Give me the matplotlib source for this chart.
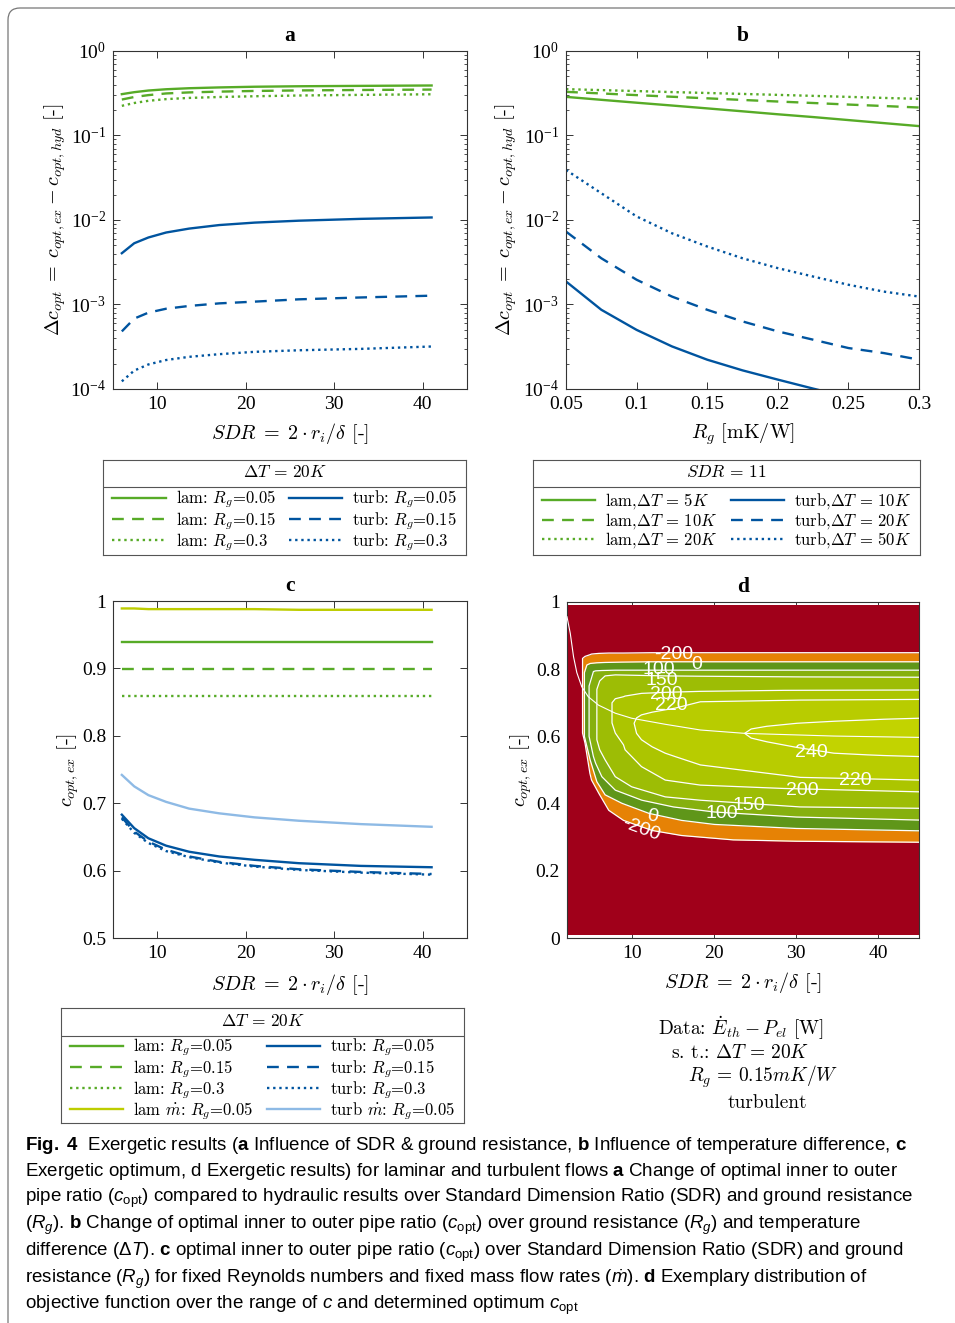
import matplotlib.pyplot as plt
import matplotlib.font_manager as fm
from matplotlib.patches import FancyBboxPatch
from matplotlib.font_manager import FontProperties
from matplotlib.ticker import FuncFormatter

# fonts: serif ticks (MATLAB look), computer modern for labels, narrow sans for the caption
names = {f.name for f in fm.fontManager.ttflist}
cap_font = "Liberation Sans Narrow" if "Liberation Sans Narrow" in names else "Liberation Sans"
plt.rcParams["font.family"] = "Liberation Serif"
plt.rcParams["mathtext.fontset"] = "cm"
plt.rcParams["mathtext.rm"] = cap_font
plt.rcParams["mathtext.it"] = cap_font + ":italic"
plt.rcParams["mathtext.bf"] = cap_font + ":bold"

green = "#57AB27"
blue = "#00549F"
lblue = "#8EBAE5"
mgreen = "#BDCD00"
dash = (0, (5, 3.5))
dot = (0, (1, 1.6))
lw = 1.7

# ---- panel a: delta c_opt over SDR (dT = 20K)
sdr = [6, 7.4, 9, 11, 13.6, 17, 21, 26, 33, 41]
a_lam_005 = [0.308, 0.325, 0.340, 0.352, 0.362, 0.370, 0.377, 0.382, 0.386, 0.390]
a_lam_015 = [0.266, 0.285, 0.300, 0.314, 0.323, 0.330, 0.336, 0.341, 0.345, 0.349]
a_lam_03 = [0.224, 0.242, 0.257, 0.269, 0.278, 0.285, 0.291, 0.297, 0.302, 0.307]
a_turb_005 = [0.00404, 0.0053, 0.0062, 0.0071, 0.0079, 0.0087, 0.0093, 0.0098, 0.0103, 0.0107]
a_turb_015 = [0.00048, 0.00068, 0.00080, 0.00089, 0.00096, 0.00103, 0.00108, 0.00115, 0.00121, 0.00127]
a_turb_03 = [0.000123, 0.000165, 0.000195, 0.000220, 0.000240, 0.000258, 0.000275, 0.000287, 0.000298, 0.000318]

# ---- panel b: delta c_opt over R_g (SDR = 11)
rg = [0.05, 0.075, 0.1, 0.125, 0.15, 0.175, 0.2, 0.225, 0.25, 0.275, 0.3]
b_lam_5 = [0.286, 0.264, 0.244, 0.226, 0.209, 0.193, 0.178, 0.165, 0.152, 0.140, 0.129]
b_lam_10 = [0.328, 0.314, 0.300, 0.287, 0.275, 0.263, 0.252, 0.242, 0.232, 0.223, 0.214]
b_lam_20 = [0.353, 0.344, 0.335, 0.326, 0.318, 0.310, 0.302, 0.294, 0.286, 0.278, 0.271]
b_turb_10 = [0.00187, 0.000865, 0.0005, 0.000319, 0.000222, 0.000166, 0.000129, 0.000101, 0.00008, 0.000064, 0.000052]
b_turb_20 = [0.00728, 0.00352, 0.00196, 0.00124, 0.000865, 0.00063, 0.00048, 0.000383, 0.000305, 0.000266, 0.000222]
b_turb_50 = [0.039, 0.0207, 0.011, 0.00696, 0.00485, 0.00352, 0.00269, 0.00214, 0.00171, 0.00142, 0.00124]

# ---- panel c: c_opt,ex over SDR
c_lam_005 = [0.939, 0.939, 0.939, 0.939, 0.939, 0.939, 0.939, 0.939, 0.939, 0.939]
c_lam_015 = [0.899, 0.899, 0.899, 0.899, 0.899, 0.899, 0.899, 0.899, 0.899, 0.899]
c_lam_03 = [0.859, 0.859, 0.859, 0.859, 0.859, 0.859, 0.859, 0.859, 0.859, 0.859]
c_lam_m = [0.989, 0.989, 0.988, 0.988, 0.988, 0.988, 0.988, 0.987, 0.987, 0.987]
c_turb_005 = [0.683, 0.663, 0.648, 0.637, 0.628, 0.621, 0.616, 0.611, 0.607, 0.605]
c_turb_015 = [0.679, 0.658, 0.643, 0.631, 0.621, 0.613, 0.607, 0.602, 0.598, 0.595]
c_turb_03 = [0.677, 0.656, 0.641, 0.629, 0.620, 0.612, 0.606, 0.601, 0.597, 0.594]
c_turb_m = [0.742, 0.725, 0.712, 0.702, 0.692, 0.685, 0.679, 0.674, 0.669, 0.665]

# ---- panel d: objective function E_th - P_el [W], contour bands (SDR, c lower, c upper)
d_box_sdr = [2, 45]
d_box_c = [0.01, 0.99]
d_levels = [-200, 0, 100, 150, 200, 220, 240]
sdr_m200 = [3.9, 4.2, 4.8, 5.0, 5.9, 7.1, 8.9, 12.4, 16, 22.3, 30, 45]
lo_m200 = [0.61, 0.58, 0.49, 0.47, 0.43, 0.38, 0.35, 0.32, 0.305, 0.292, 0.288, 0.285]
hi_m200 = [0.832, 0.838, 0.843, 0.845, 0.847, 0.848, 0.848, 0.849, 0.849, 0.849, 0.849, 0.849]
sdr_0 = [4.13, 4.43, 4.83, 5.65, 6.66, 8.7, 12.0, 16, 20, 30, 45]
lo_0 = [0.60, 0.57, 0.53, 0.465, 0.426, 0.401, 0.371, 0.35, 0.338, 0.326, 0.319]
hi_0 = [0.79, 0.8125, 0.817, 0.819, 0.82, 0.821, 0.822, 0.822, 0.822, 0.822, 0.822]
sdr_100 = [4.7, 5.23, 5.5, 6.26, 7.9, 11.15, 15, 20, 30, 45]
lo_100 = [0.60, 0.54, 0.52, 0.48, 0.44, 0.41, 0.39, 0.375, 0.36, 0.351]
hi_100 = [0.75, 0.793, 0.795, 0.796, 0.797, 0.797, 0.797, 0.797, 0.797, 0.797]
sdr_150 = [5.65, 6.0, 6.66, 7.9, 9.9, 14, 18.3, 30.5, 45]
lo_150 = [0.59, 0.56, 0.53, 0.48, 0.45, 0.42, 0.41, 0.39, 0.386]
hi_150 = [0.74, 0.765, 0.78, 0.783, 0.782, 0.78, 0.779, 0.777, 0.776]
sdr_200 = [7.5, 7.9, 8.9, 9.1, 11.1, 14, 18.3, 28.5, 45]
lo_200 = [0.64, 0.61, 0.575, 0.56, 0.51, 0.47, 0.455, 0.445, 0.435]
hi_200 = [0.70, 0.712, 0.718, 0.72, 0.728, 0.731, 0.734, 0.737, 0.738]
sdr_220 = [10.2, 10.5, 11.1, 12.4, 14, 15.2, 18.3, 30.5, 45]
lo_220 = [0.639, 0.609, 0.59, 0.569, 0.55, 0.54, 0.515, 0.478, 0.470]
hi_220 = [0.639, 0.655, 0.664, 0.672, 0.679, 0.684, 0.703, 0.708, 0.710]
sdr_240 = [23.7, 24.5, 26.4, 30.1, 34.6, 38.7, 40.7, 45]
lo_240 = [0.609, 0.595, 0.584, 0.567, 0.55, 0.545, 0.543, 0.540]
hi_240 = [0.609, 0.622, 0.630, 0.639, 0.645, 0.649, 0.651, 0.654]
copt_sdr = [2, 2.4, 2.8, 3.2, 3.8, 4.6, 5.85, 7.9, 9.9, 14, 18.3, 23.7, 34.6, 45]
copt_c = [0.956, 0.907, 0.837, 0.79, 0.748, 0.718, 0.693, 0.669, 0.654, 0.636, 0.619, 0.609, 0.601, 0.597]
lab_txt = ["-200", "0", "100", "150", "200", "220", "240", "220", "200", "150", "100", "0", "-200"]
lab_sdr = [15.05, 17.9, 13.2, 13.6, 14.1, 14.8, 31.9, 37.2, 30.7, 24.2, 20.9, 12.4, 11.1]
lab_c = [0.845, 0.815, 0.800, 0.766, 0.724, 0.692, 0.552, 0.468, 0.438, 0.393, 0.371, 0.361, 0.323]
lab_rot = [0, 0, 0, 0, 0, 0, 0, 0, 0, 0, 0, -10, -20]
d_red = "#A0001A"
d_colors = ["#E68205", "#5F9619", "#86B00E", "#9DBD05", "#ACC500", "#B8CC00", "#C2D300"]

lab_kw = dict(family="cmr10", math_fontfamily="cm")
leg_prop = FontProperties(family="cmr10", size=12, math_fontfamily="cm")
gfmt = FuncFormatter(lambda v, p: "%g" % v)

fig = plt.figure(figsize=(9.55, 13.23), dpi=100)


def style(ax):
    ax.tick_params(which="both", direction="in", top=True, right=True,
                   labelsize=14, color="#333333", pad=5)
    ax.tick_params(which="major", length=5, width=0.7)
    ax.tick_params(which="minor", length=2.5, width=0.6)
    for s in ax.spines.values():
        s.set_color("#333333")
        s.set_linewidth(0.8)


def legend_box(rect, title, ax, sep, title_y):
    lax = fig.add_axes(rect)
    lax.set_xticks([])
    lax.set_yticks([])
    for s in lax.spines.values():
        s.set_color("#555555")
        s.set_linewidth(0.8)
    lax.axhline(sep, color="#555555", lw=0.8)
    lax.text(0.5, title_y, title, ha="center", va="center", fontsize=12.5,
             transform=lax.transAxes, **lab_kw)
    h, l = ax.get_legend_handles_labels()
    lax.legend(h, l, ncol=2, loc="center", bbox_to_anchor=(0, 0, 1, sep),
               frameon=False, prop=leg_prop, handlelength=3.2, handletextpad=0.6,
               columnspacing=0.8, labelspacing=-0.03, borderaxespad=0, borderpad=0)


ylab_a = r"$\Delta c_{opt} \;=\; c_{opt,ex} - c_{opt,hyd}$ [-]"
xlab_sdr = r"$SDR \;=\; 2 \cdot r_i/\delta$ [-]"

# ---- a
ax = fig.add_axes([0.1183, 0.7060, 0.3707, 0.2555])
ax.plot(sdr, a_lam_005, color=green, lw=lw, label=r"lam: $R_g$=0.05")
ax.plot(sdr, a_lam_015, color=green, lw=lw, ls=dash, label=r"lam: $R_g$=0.15")
ax.plot(sdr, a_lam_03, color=green, lw=lw, ls=dot, label=r"lam: $R_g$=0.3")
ax.plot(sdr, a_turb_005, color=blue, lw=lw, label=r"turb: $R_g$=0.05")
ax.plot(sdr, a_turb_015, color=blue, lw=lw, ls=dash, label=r"turb: $R_g$=0.15")
ax.plot(sdr, a_turb_03, color=blue, lw=lw, ls=dot, label=r"turb: $R_g$=0.3")
ax.set_yscale("log")
ax.set_ylim(1e-4, 1)
ax.set_xlim(5, 45)
ax.set_xticks([10, 20, 30, 40])
style(ax)
ax.set_title("a", fontsize=15.5, fontweight="bold", pad=7)
ax.set_xlabel(xlab_sdr, fontsize=14.5, **lab_kw)
ax.set_ylabel(ylab_a, fontsize=14.5, **lab_kw)
ax.xaxis.set_label_coords(0.5, -0.095)
ax.yaxis.set_label_coords(-0.127, 0.5)
legend_box([0.1079, 0.5805, 0.3801, 0.0718], r"$\Delta T \,=\, 20K$", ax, 0.719, 0.874)

# ---- b
ax = fig.add_axes([0.5927, 0.7060, 0.3696, 0.2555])
ax.plot(rg, b_lam_5, color=green, lw=lw, label=r"lam,$\Delta T\,=\,5K$")
ax.plot(rg, b_lam_10, color=green, lw=lw, ls=dash, label=r"lam,$\Delta T\,=\,10K$")
ax.plot(rg, b_lam_20, color=green, lw=lw, ls=dot, label=r"lam,$\Delta T\,=\,20K$")
ax.plot(rg, b_turb_10, color=blue, lw=lw, label=r"turb,$\Delta T\,=\,10K$")
ax.plot(rg, b_turb_20, color=blue, lw=lw, ls=dash, label=r"turb,$\Delta T\,=\,20K$")
ax.plot(rg, b_turb_50, color=blue, lw=lw, ls=dot, label=r"turb,$\Delta T\,=\,50K$")
ax.set_yscale("log")
ax.set_ylim(1e-4, 1)
ax.set_xlim(0.05, 0.3)
ax.set_xticks([0.05, 0.1, 0.15, 0.2, 0.25, 0.3])
ax.xaxis.set_major_formatter(gfmt)
style(ax)
ax.set_title("b", fontsize=15.5, fontweight="bold", pad=7)
ax.set_xlabel(r"$R_g$ [mK/W]", fontsize=14.5, **lab_kw)
ax.set_ylabel(ylab_a, fontsize=14.5, **lab_kw)
ax.xaxis.set_label_coords(0.5, -0.095)
ax.yaxis.set_label_coords(-0.132, 0.5)
legend_box([0.5581, 0.5805, 0.4052, 0.0718], r"$SDR \,=\, 11$", ax, 0.719, 0.874)

# ---- c
ax = fig.add_axes([0.1183, 0.2910, 0.3707, 0.2547])
ax.plot(sdr, c_lam_005, color=green, lw=lw, label=r"lam: $R_g$=0.05")
ax.plot(sdr, c_lam_015, color=green, lw=lw, ls=dash, label=r"lam: $R_g$=0.15")
ax.plot(sdr, c_lam_03, color=green, lw=lw, ls=dot, label=r"lam: $R_g$=0.3")
ax.plot(sdr, c_lam_m, color=mgreen, lw=lw, label=r"lam $\dot{m}$: $R_g$=0.05")
ax.plot(sdr, c_turb_005, color=blue, lw=lw, label=r"turb: $R_g$=0.05")
ax.plot(sdr, c_turb_015, color=blue, lw=lw, ls=dash, label=r"turb: $R_g$=0.15")
ax.plot(sdr, c_turb_03, color=blue, lw=lw, ls=dot, label=r"turb: $R_g$=0.3")
ax.plot(sdr, c_turb_m, color=lblue, lw=lw, label=r"turb $\dot{m}$: $R_g$=0.05")
ax.set_ylim(0.5, 1)
ax.set_xlim(5, 45)
ax.set_xticks([10, 20, 30, 40])
ax.yaxis.set_major_formatter(gfmt)
style(ax)
ax.set_title("c", fontsize=15.5, fontweight="bold", pad=7)
ax.set_xlabel(xlab_sdr, fontsize=14.5, **lab_kw)
ax.set_ylabel(r"$c_{opt,ex}$ [-]", fontsize=14.5, **lab_kw)
ax.xaxis.set_label_coords(0.5, -0.10)
ax.yaxis.set_label_coords(-0.09, 0.5)
legend_box([0.0639, 0.1512, 0.4223, 0.0867], r"$\Delta T \,=\, 20K$", ax, 0.761, 0.889)

# ---- d
ax = fig.add_axes([0.5937, 0.2910, 0.3686, 0.2540])
ax.fill_between(d_box_sdr, d_box_c[0], d_box_c[1], color=d_red, lw=0, zorder=2)
bands = [(sdr_m200, lo_m200, hi_m200), (sdr_0, lo_0, hi_0), (sdr_100, lo_100, hi_100),
         (sdr_150, lo_150, hi_150), (sdr_200, lo_200, hi_200), (sdr_220, lo_220, hi_220),
         (sdr_240, lo_240, hi_240)]
for (x, lo, hi), col in zip(bands, d_colors):
    ax.fill_between(x, lo, hi, color=col, lw=0, zorder=2)
for x, lo, hi in bands:
    ax.plot(x[::-1] + x, lo[::-1] + hi, color="white", lw=0.9, zorder=3)
ax.plot(copt_sdr, copt_c, color="white", lw=0.8, zorder=4)
for t, xs, cs, r in zip(lab_txt, lab_sdr, lab_c, lab_rot):
    ax.text(xs, cs, t, color="white", fontsize=14, family="Liberation Sans",
            ha="center", va="center", rotation=r, zorder=5)
ax.set_xlim(2, 45)
ax.set_ylim(0, 1)
ax.set_xticks([10, 20, 30, 40])
ax.set_yticks([0, 0.2, 0.4, 0.6, 0.8, 1])
ax.yaxis.set_major_formatter(gfmt)
style(ax)
ax.set_title("d", fontsize=15.5, fontweight="bold", pad=7)
ax.set_xlabel(xlab_sdr, fontsize=14.5, **lab_kw)
ax.set_ylabel(r"$c_{opt,ex}$ [-]", fontsize=14.5, **lab_kw)
ax.xaxis.set_label_coords(0.5, -0.095)
ax.yaxis.set_label_coords(-0.095, 0.5)

d_note = [r"Data: $\dot{E}_{th} - P_{el}$ [W]", r"s. t.: $\Delta T \,=\, 20K$",
          r"$R_g \,=\, 0.15mK/W$", "turbulent"]
d_note_x = [741, 740, 763, 767]
d_note_y = [1028, 1053, 1077, 1103]
for t, xp, yp in zip(d_note, d_note_x, d_note_y):
    fig.text(xp / 955, 1 - yp / 1323, t, ha="center", va="center", fontsize=14, **lab_kw)

# ---- caption
cap_lines = [
    r"$\mathbf{Fig.\ 4}$  Exergetic results ($\mathbf{a}$ Influence of SDR & ground resistance, $\mathbf{b}$ Influence of temperature difference, $\mathbf{c}$",
    r"Exergetic optimum, d Exergetic results) for laminar and turbulent flows $\mathbf{a}$ Change of optimal inner to outer",
    r"pipe ratio ($c_{\mathrm{opt}}$) compared to hydraulic results over Standard Dimension Ratio (SDR) and ground resistance",
    r"($R_g$). $\mathbf{b}$ Change of optimal inner to outer pipe ratio ($c_{\mathrm{opt}}$) over ground resistance ($R_g$) and temperature",
    r"difference ($\Delta T$). $\mathbf{c}$ optimal inner to outer pipe ratio ($c_{\mathrm{opt}}$) over Standard Dimension Ratio (SDR) and ground",
    r"resistance ($R_g$) for fixed Reynolds numbers and fixed mass flow rates ($\dot{m}$). $\mathbf{d}$ Exemplary distribution of",
    r"objective function over the range of $c$ and determined optimum $c_{\mathrm{opt}}$",
]
for i, line in enumerate(cap_lines):
    fig.text(25 / 955, 1 - (1145 + 26.8 * i) / 1323, line, ha="left", va="center",
             fontsize=13.5, family=cap_font, math_fontfamily="custom")

# frame around the figure
fig.patches.append(FancyBboxPatch((0.08, -1), 11, 14.15, boxstyle="round,pad=0,rounding_size=0.12",
                                  transform=fig.dpi_scale_trans, fill=False,
                                  edgecolor="#777777", lw=0.9))

fig.savefig("out.png", dpi=100)
